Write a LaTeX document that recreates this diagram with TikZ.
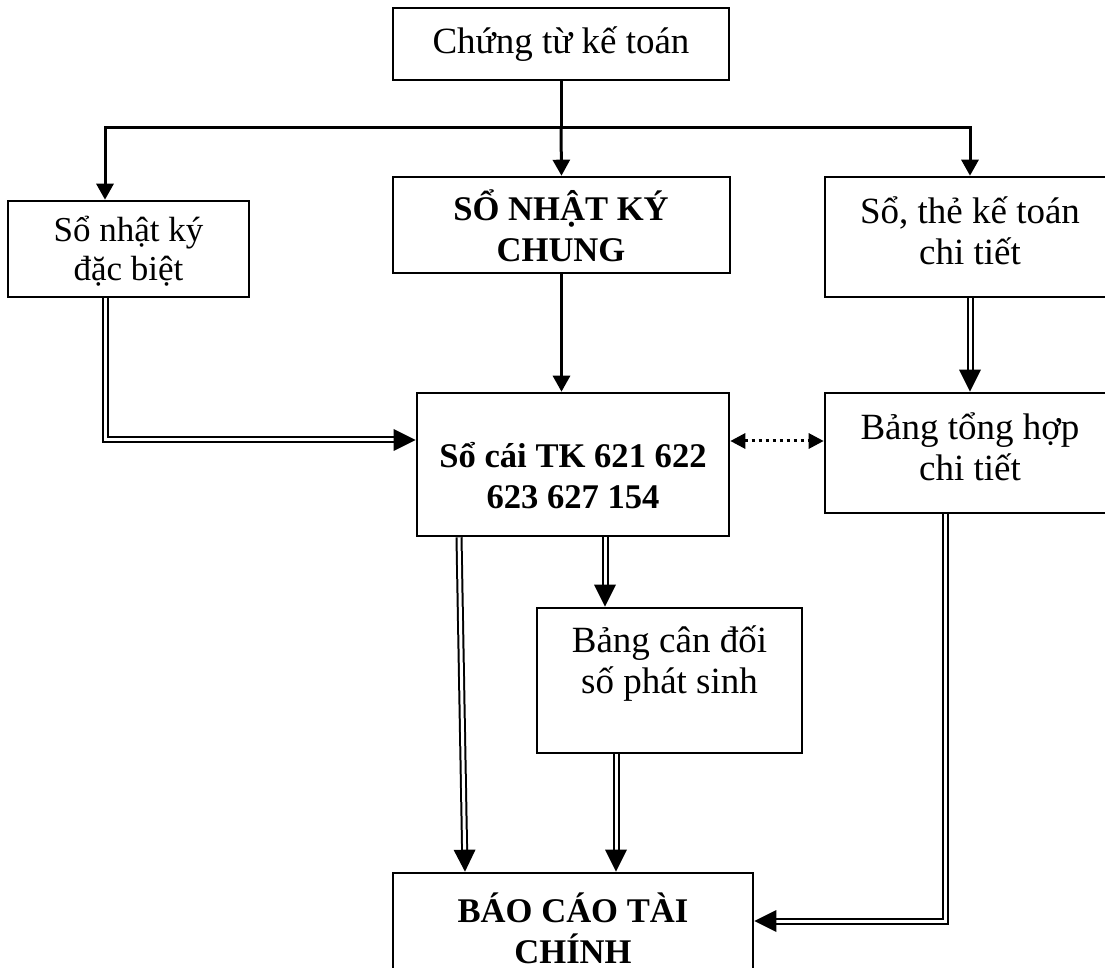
\documentclass[tikz,border=0pt]{standalone}
\usepackage{fontspec}
\setmainfont{Liberation Serif}
\usetikzlibrary{arrows.meta,fit,decorations.markings}
\begin{document}
\begin{tikzpicture}[x=0.5pt,y=-0.5pt,
 box/.style={draw, line width=1.3pt, inner sep=0pt, rectangle},
 txt/.style={align=center, font=\fontsize{18.5}{20.5}\selectfont, inner sep=0pt},
 stxt/.style={align=center, font=\fontsize{17.5}{19.5}\selectfont, inner sep=0pt},
 btxt/.style={align=center, font=\fontsize{17.3}{20.5}\selectfont\bfseries, inner sep=0pt},
 line/.style={line width=1.5pt},
 arr/.style={line width=1.5pt, -{Triangle[length=8pt,width=8.5pt]}},
 dbl/.style={double, double distance=1.5pt, line width=1pt, shorten >=9pt,
   postaction={decorate, decoration={markings, mark=at position 1 with {\fill (0,0)--(-11pt,5.5pt)--(-11pt,-5.5pt)--cycle;}}}},
 dots/.style={line width=1.5pt, dash pattern=on 1.5pt off 2pt, {Triangle[length=7.5pt,width=7.5pt]}-{Triangle[length=7.5pt,width=7.5pt]}}
]
\useasboundingbox (0,0) rectangle (1105,968);
% boxes
\node[box, fit={(393,8) (729,80)}] (b1) {};
\node[box, fit={(8,201) (249,297)}] (b2) {};
\node[box, fit={(393,177) (730,273)}] (b3) {};
\node[box, fit={(825,177) (1115,297)}] (b4) {};
\node[box, fit={(417,393) (729,536)}] (b5) {};
\node[box, fit={(825,393) (1115,513)}] (b6) {};
\node[box, fit={(537,608) (802,753)}] (b7) {};
\node[box, fit={(393,873) (753,1010)}] (b8) {};
% texts
\node[txt] (t1) at (561,44) {Chứng từ kế toán};
\node[stxt] (t2) at (128.5,251) {Sổ nhật ký\\đặc biệt};
\node[btxt] (t3) at (561,226) {SỔ NHẬT KÝ\\CHUNG};
\node[txt] (t4) at (970,231) {Sổ, thẻ kế toán\\chi tiết};
\node[btxt] (t5) at (573,476) {Sổ cái TK 621 622\\623 627 154};
\node[txt] (t6) at (970,447) {Bảng tổng hợp\\chi tiết};
\node[txt] (t7) at (669.5,664) {Bảng cân đối\\số phát sinh};
\node[btxt, anchor=south] (t8) at (573,964) {BÁO CÁO TÀI\\CHÍNH};
% bend coordinates
\coordinate (kh) at (561,128);
\coordinate (k1) at (105,440);
\coordinate (k2) at (945,921);
\coordinate (k3a) at (459,0);
\coordinate (k3b) at (465,0);
\coordinate (k4) at (605,0);
\coordinate (k5) at (616,0);
\coordinate (kd) at (0,441);
% connectors
\draw[line] (b1.south) -- (kh);
\draw[arr] (kh) -- (b3.north);
\draw[arr] (kh) -| (k1 |- b2.north);
\draw[arr] (kh) -| (b4.north);
\draw[arr] (b3.south) -- (b3.south |- b5.north);
\draw[dbl] (k1 |- b2.south) -- (k1) -- (b5.west |- k1);
\draw[dbl] (b4.south) -- (b6.north);
\draw[dots] (b5.east |- kd) -- (b6.west |- kd);
\draw[dbl] (k3a |- b5.south) -- (k3b |- b8.north);
\draw[dbl] (k4 |- b5.south) -- (k4 |- b7.north);
\draw[dbl] (k5 |- b7.south) -- (k5 |- b8.north);
\draw[dbl] (k2 |- b6.south) -- (k2) -- (b8.east |- k2);
\end{tikzpicture}
\end{document}
